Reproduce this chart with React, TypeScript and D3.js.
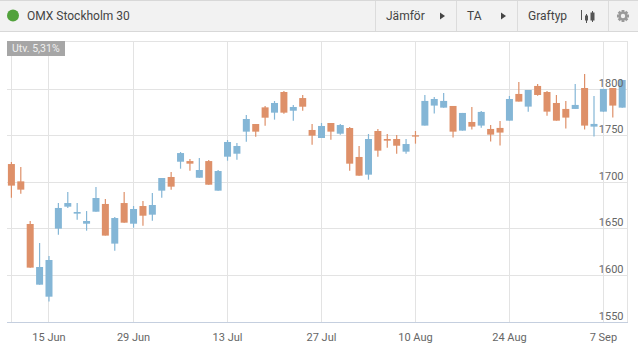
import React from "react";
import * as d3 from "d3";

const opens = [1719.7,1701.1,1655.3,1590.1,1577.2,1650.3,1673.9,1666.4,1655.6,1668.5,1676.8,1634.2,1677.8,1655.6,1674.6,1665.3,1691.1,1705.8,1722.2,1722.9,1705.0,1722.9,1691.1,1727.6,1730.8,1754.5,1762.7,1780.6,1774.9,1797.1,1777.0,1790.6,1756.3,1747.7,1763.8,1752.3,1758.4,1727.3,1708.3,1755.2,1746.6,1746.6,1733.0,1750.6,1761.0,1782.5,1780.3,1782.1,1755.6,1764.9,1761.0,1757.4,1758.5,1766.3,1795.0,1781.4,1803.6,1797.1,1785.3,1778.9,1778.9,1801.4,1759.9,1776.0,1801.4,1780.3];
const closes = [1696.5,1692.2,1608.4,1609.1,1616.6,1672.5,1677.8,1668.2,1658.5,1683.2,1642.8,1661.7,1656.7,1671.4,1664.2,1675.7,1704.7,1695.4,1731.5,1720.1,1713.3,1697.5,1712.2,1743.4,1739.1,1768.1,1754.5,1769.5,1785.3,1774.9,1781.0,1781.3,1750.2,1760.6,1754.5,1761.6,1720.1,1707.2,1746.6,1734.1,1744.8,1739.4,1741.2,1749.2,1787.5,1789.6,1787.5,1754.5,1774.6,1759.9,1775.7,1751.3,1753.5,1789.6,1786.8,1799.3,1793.9,1776.0,1766.3,1769.6,1783.2,1761.0,1762.8,1800.4,1782.5,1810.0];
const highs = [1721.9,1716.5,1658.5,1634.9,1620.9,1677.8,1689.7,1677.8,1669.2,1695.0,1682.1,1662.8,1689.7,1674.6,1680.0,1688.6,1704.7,1711.1,1732.6,1725.1,1726.2,1724.0,1713.3,1745.5,1742.3,1772.4,1762.7,1782.0,1787.4,1798.1,1783.1,1793.8,1762.7,1763.8,1763.8,1762.7,1759.5,1739.1,1752.0,1757.3,1752.0,1750.9,1746.6,1755.2,1793.9,1791.8,1796.1,1782.1,1774.6,1781.0,1776.7,1761.7,1766.0,1792.8,1807.9,1799.3,1805.7,1798.2,1793.9,1787.5,1805.7,1816.5,1792.8,1800.4,1801.4,1810.0];
const lows = [1683.6,1687.9,1608.4,1590.1,1571.9,1643.8,1672.5,1659.9,1648.1,1668.5,1642.8,1626.6,1656.7,1651.3,1653.5,1658.9,1683.6,1692.2,1714.7,1712.6,1705.0,1697.5,1691.1,1723.3,1724.4,1743.7,1749.1,1760.9,1767.4,1773.8,1766.3,1777.0,1740.5,1747.7,1745.9,1751.2,1712.6,1707.2,1702.9,1727.6,1737.3,1730.8,1730.8,1741.6,1761.0,1773.9,1780.3,1748.1,1755.6,1756.7,1758.8,1743.8,1739.5,1766.3,1786.8,1776.0,1793.2,1771.7,1766.3,1757.8,1778.9,1756.7,1749.2,1776.0,1769.6,1780.3];

const xTickIndex = [4, 13, 23, 33, 43, 53, 63];
const xTickLabels = ["15 Jun", "29 Jun", "13 Jul", "27 Jul", "10 Aug", "24 Aug", "7 Sep"];
const yTicks = [1550, 1600, 1650, 1700, 1750, 1800];

const ORANGE = "#de9069";
const BLUE = "#84b6d6";
const GRID = "#e3e3e3";
const FONT = "Roboto, sans-serif";

function gearPath(cx: number, cy: number) {
  const teeth = 8;
  const pts: string[] = [];
  for (let i = 0; i < teeth; i++) {
    const a = (i / teeth) * Math.PI * 2;
    const w = 0.24;
    [[-w * 1.3, 4.6], [-w, 6.2], [w, 6.2], [w * 1.3, 4.6]].forEach(([da, r]) => {
      pts.push(`${cx + Math.cos(a + da) * r},${cy + Math.sin(a + da) * r}`);
    });
  }
  const hole = d3.path();
  hole.moveTo(cx + 2.2, cy);
  hole.arc(cx, cy, 2.2, 0, Math.PI * 2);
  return `M${pts.join("L")}Z${hole.toString()}`;
}

export default function App() {
  const x = d3.scaleLinear().domain([0, 63]).range([11.4, 603.4]);
  const y = d3.scaleLinear().domain([1550, 1800]).range([322, 89.3]);
  const px = (v: number) => Math.round(v - 0.5) + 0.5;
  const left = 7, right = 627, top = 41, bottom = 322;
  return (
    <svg width={638} height={352} style={{ position: "absolute", left: 0, top: 0, fontFamily: FONT }}>
      <rect x={0} y={0} width={638} height={352} fill="#fff" />
      <rect x={0} y={0} width={638} height={32} fill="#f2f2f2" />
      <line x1={0} x2={638} y1={0.5} y2={0.5} stroke="#d8d8d8" />
      <line x1={0} x2={638} y1={31.5} y2={31.5} stroke="#d8d8d8" />
      {[375, 456, 517, 608].map((d) => (
        <line key={d} x1={d + 0.5} x2={d + 0.5} y1={1} y2={31} stroke="#dcdcdc" />
      ))}
      <circle cx={13} cy={15.5} r={6} fill="#52a23c" />
      <text x={27} y={20} fontSize={12} fill="#444">OMX Stockholm 30</text>
      <text x={386} y={20} fontSize={12} fill="#444">Jämför</text>
      <path d="M440,12.5 L445,16 L440,19.5 Z" fill="#444" />
      <text x={467} y={20} fontSize={12} fill="#444">TA</text>
      <path d="M501,12.5 L506,16 L501,19.5 Z" fill="#444" />
      <text x={528} y={20} fontSize={12} fill="#444">Graftyp</text>
      <g stroke="#555" fill="#555">
        <line x1={581.5} x2={581.5} y1={10} y2={20} />
        <line x1={586.5} x2={586.5} y1={14} y2={23} />
        <rect x={585.5} y={16} width={2} height={4} />
        <line x1={592.5} x2={592.5} y1={11} y2={22} />
        <rect x={591} y={13} width={3} height={7} />
      </g>
      <path d={gearPath(623, 16)} fill="#9a9a9a" fillRule="evenodd" />

      <g stroke={GRID}>
        <line x1={left} x2={right} y1={top + 0.5} y2={top + 0.5} />
        {yTicks.slice(1).map((t) => (
          <line key={t} x1={left} x2={right} y1={px(y(t))} y2={px(y(t))} />
        ))}
        <line x1={11.5} x2={11.5} y1={top} y2={bottom} />
        {xTickIndex.map((i) => (
          <line key={i} x1={px(x(i))} x2={px(x(i))} y1={top} y2={bottom} />
        ))}
        <line x1={right + 0.5} x2={right + 0.5} y1={top} y2={bottom} />
      </g>
      <line x1={left} x2={right + 1} y1={bottom + 0.5} y2={bottom + 0.5} stroke="#c5cfdf" />

      {opens.map((o, i) => {
        const c = closes[i];
        const color = c >= o ? BLUE : ORANGE;
        const cx = x(i);
        const t = y(Math.max(o, c));
        const b = y(Math.min(o, c));
        return (
          <g key={i}>
            <line x1={cx} x2={cx} y1={y(highs[i])} y2={y(lows[i])} stroke={color} strokeWidth={1.2} />
            <rect x={cx - 3.5} y={t} width={7} height={Math.max(b - t, 1)} fill={color} />
          </g>
        );
      })}

      <rect x={7} y={41} width={58} height={15} fill="#a6a6a6" />
      <text x={12} y={52} fontSize={10.5} fill="#f0f0f0">Utv. 5,31%</text>

      {yTicks.map((t) => (
        <text key={t} x={623.5} y={y(t) - 2.5} fontSize={11} fill="#666" textAnchor="end">{t}</text>
      ))}
      {xTickIndex.map((i, k) => (
        <text key={i} x={x(i)} y={341} fontSize={11} fill="#666" textAnchor="middle">{xTickLabels[k]}</text>
      ))}
    </svg>
  );
}
